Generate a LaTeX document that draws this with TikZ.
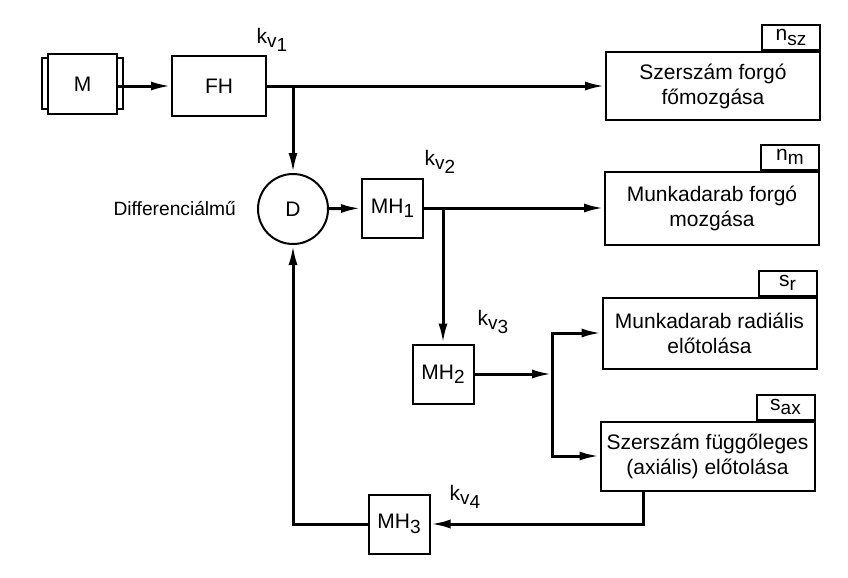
\documentclass[tikz,border=0pt]{standalone}
\usepackage{fontspec}
\setmainfont{Liberation Sans}
\usetikzlibrary{arrows.meta}
\newcommand{\lowsub}[1]{\raisebox{-.4ex}{\fontsize{9.5}{9.5}\selectfont #1}}
\newcommand{\kvsub}[1]{k\lowsub{v\lowsub{#1}}}

\begin{document}
\begin{tikzpicture}[x=0.5pt, y=-0.5pt, font=\fontsize{10.5}{12.5}\selectfont,
    blk/.style={draw, line width=1pt, minimum width=30.5pt, minimum height=29.5pt, inner sep=1pt},
    outbox/.style={draw, line width=1pt, minimum width=107pt, align=center, inner sep=2pt},
    tag/.style={draw, line width=1pt, anchor=south east, minimum width=29pt, minimum height=12.5pt, inner sep=1pt},
    conn/.style={line width=1.5pt, -{Latex[length=10pt, width=4.5pt]}}]
  \useasboundingbox (0,0) rectangle (848,578);
  % motor, main gear, differential
  \node[blk, minimum width=34.5pt, minimum height=30pt] (M) at (82.5,84) {M};
  \draw[line width=1pt] (42,58) rectangle (48,109) (117,58) rectangle (123,109);
  \node[blk, minimum width=47pt, minimum height=30pt] (FH) at (219,86) {FH};
  \node[draw, circle, line width=1pt, minimum size=35pt, inner sep=0pt] (D) at (293,209) {D};
  \node[anchor=east, font=\fontsize{9.6}{11}\selectfont] (Dlabel) at (243,209) {Differenciálmű};
  \node[blk] (MH1) at (392.5,208) {MH\lowsub{1}};
  \node[blk] (MH2) at (443,374) {MH\lowsub{2}};
  \node[blk] (MH3) at (399,524) {MH\lowsub{3}};
  % outputs with their tags
  \foreach \n/\x/\y/\h/\t/\s in {
      o1/713/86/34/{Szerszám forgó\\főmozgása}/{n\lowsub{sz}},
      o2/712/208/36.5/{Munkadarab forgó\\mozgása}/{n\lowsub{m}},
      o3/709.5/333/35.5/{Munkadarab radiális\\előtolása}/{s\lowsub{r}},
      o4/707.5/456/34.5/{Szerszám függőleges\\(axiális) előtolása}/{s\lowsub{ax}}} {
    \node[outbox, minimum height=\h pt] (\n) at (\x,\y) {\t};
    \node[tag] (\n t) at (\n.north east) {\s};
  }
  % ratios
  \node (kv1) at (272,40) {\kvsub{1}};
  \node (kv2) at (440,162) {\kvsub{2}};
  \node (kv3) at (493,322) {\kvsub{3}};
  \node (kv4) at (465,497) {\kvsub{4}};
  % connections
  \coordinate (J) at (552,374);
  \draw[conn] (M.east |- FH) -- (FH);
  \draw[conn] (FH) -- (o1);
  \draw[conn] (FH.east -| D) -- (D);
  \draw[conn] (D) -- (MH1);
  \draw[conn] (MH1) -- (o2);
  \draw[conn] (MH1.east -| MH2) -- (MH2);
  \draw[conn] (MH2) -- (J);
  \draw[conn] (J) |- (o3);
  \draw[conn] (J) |- (o4);
  \draw[conn] ([xshift=-32pt]o4.south) |- (MH3);
  \draw[conn] (MH3) -| (D);
\end{tikzpicture}
\end{document}
